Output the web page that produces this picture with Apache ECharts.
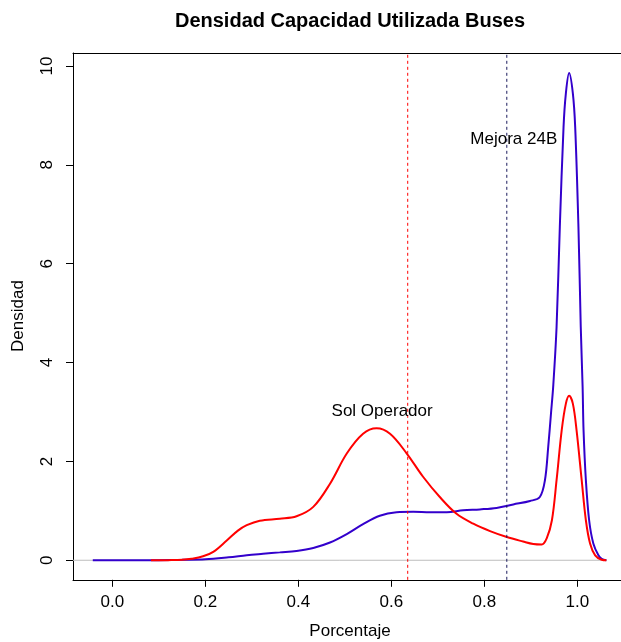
<!DOCTYPE html>
<html>
<head>
<meta charset="utf-8">
<script src="https://cdn.jsdelivr.net/npm/echarts@6/dist/echarts.min.js"></script>
<style>html,body{margin:0;padding:0;background:#fff;}#c{width:621px;height:642px;}</style>
</head>
<body>
<div id="c"></div>
<script>
// ---- data ----
const mejoraX = [-0.042,0.0,0.1,0.15,0.2,0.25,0.289,0.324,0.36,0.396,0.432,0.468,0.504,0.539,0.575,0.611,0.647,0.683,0.719,0.754,0.79,0.826,0.862,0.898,0.919,0.930,0.937,0.943,0.948,0.955,0.962,0.970,0.975,0.982,0.990,0.995,1.002,1.007,1.011,1.013,1.018,1.025,1.034,1.045,1.052,1.062];
const mejoraY = [0,0.0,0.003,0.01,0.02,0.06,0.10,0.13,0.16,0.19,0.25,0.36,0.53,0.73,0.90,0.97,0.98,0.97,0.97,1.01,1.03,1.06,1.13,1.20,1.28,1.62,2.29,2.97,3.55,4.72,6.75,8.77,9.45,9.86,9.45,8.77,6.75,4.72,3.5,2.63,1.62,0.81,0.34,0.10,0.03,0];
const operX = [0.083,0.12,0.15,0.17,0.195,0.217,0.246,0.27,0.289,0.317,0.36,0.396,0.432,0.468,0.504,0.539,0.568,0.597,0.633,0.668,0.704,0.740,0.776,0.812,0.848,0.883,0.905,0.923,0.934,0.945,0.955,0.966,0.975,0.982,0.990,0.998,1.009,1.018,1.027,1.038,1.052,1.062];
const operY = [0,0.003,0.01,0.03,0.08,0.17,0.40,0.60,0.71,0.80,0.84,0.89,1.08,1.55,2.16,2.56,2.67,2.56,2.16,1.69,1.28,0.94,0.74,0.59,0.47,0.38,0.33,0.32,0.45,0.81,1.62,2.63,3.17,3.33,3.17,2.63,1.62,0.81,0.34,0.10,0.01,0];
const vLines = [0.635, 0.848];          // Sol Operador mean, Mejora 24B mean
const annotTexts = ['Sol Operador', 'Mejora 24B'];
const annotX = [0.58, 0.863];
const annotY = [3.02, 8.52];
const xTicks = [0, 0.2, 0.4, 0.6, 0.8, 1.0];
const yTicks = [0, 2, 4, 6, 8, 10];
const titleText = 'Densidad Capacidad Utilizada Buses';
const xName = 'Porcentaje';
const yName = 'Densidad';

// ---- chart ----
const FONT = "'Liberation Sans', Arial, Helvetica, sans-serif";
const chart = echarts.init(document.getElementById('c'), null, {renderer: 'canvas'});
const zip = (xs, ys) => xs.map((x, i) => [x, ys[i]]);
const XMIN = -0.0845, XMAX = 1.0935, YMIN = -0.395, YMAX = 10.265;
const boxLine = {show: true, onZero: false, lineStyle: {color: '#000', width: 1}};

const option = {
  backgroundColor: '#ffffff',
  animation: false,
  grid: [
    {left: 73, top: 53, width: 548, height: 526.8, show: false},
    {left: 112.3, top: 66, width: 465, height: 494.3, show: false}
  ],
  xAxis: [
    {gridIndex: 0, type: 'value', min: XMIN, max: XMAX, position: 'bottom', axisLine: boxLine,
     axisTick: {show: false}, axisLabel: {show: false}, splitLine: {show: false}},
    {gridIndex: 1, type: 'value', min: 0, max: 1, interval: 0.2, position: 'bottom', offset: 19.5,
     axisLine: {show: true, onZero: false, lineStyle: {color: '#000', width: 1}},
     axisTick: {show: true, length: 7, lineStyle: {color: '#000', width: 1}},
     axisLabel: {show: true, margin: 14, color: '#000', fontSize: 17, fontFamily: FONT,
                 formatter: v => (xTicks.some(t => Math.abs(t - v) < 1e-9) ? v.toFixed(1) : '')},
     splitLine: {show: false}},
    {gridIndex: 0, type: 'value', min: XMIN, max: XMAX, position: 'top', axisLine: boxLine,
     axisTick: {show: false}, axisLabel: {show: false}, splitLine: {show: false}}
  ],
  yAxis: [
    {gridIndex: 0, type: 'value', min: YMIN, max: YMAX, position: 'left', axisLine: boxLine,
     axisTick: {show: false}, axisLabel: {show: false}, splitLine: {show: false}},
    {gridIndex: 1, type: 'value', min: 0, max: 10, interval: 2, position: 'left', offset: 39.3,
     axisLine: {show: true, onZero: false, lineStyle: {color: '#000', width: 1}},
     axisTick: {show: true, length: 7, lineStyle: {color: '#000', width: 1}},
     axisLabel: {show: true, rotate: 90, margin: 17, color: '#000', fontSize: 17, fontFamily: FONT,
                 formatter: v => (yTicks.indexOf(v) >= 0 ? String(v) : '')},
     splitLine: {show: false}}
  ],
  series: [
    {type: 'line', xAxisIndex: 0, yAxisIndex: 0, data: [[XMIN, 0], [1.063, 0]], symbol: 'none',
     lineStyle: {color: '#bebebe', width: 1}, silent: true, z: 1},
    {type: 'line', xAxisIndex: 0, yAxisIndex: 0, data: zip(mejoraX, mejoraY), symbol: 'none',
     smooth: 0.35, lineStyle: {color: '#3300cc', width: 2}, z: 3},
    {type: 'line', xAxisIndex: 0, yAxisIndex: 0, data: zip(operX, operY), symbol: 'none',
     smooth: 0.35, lineStyle: {color: '#ff0000', width: 2}, z: 4},
    {type: 'line', xAxisIndex: 0, yAxisIndex: 0, data: [[vLines[0], YMIN], [vLines[0], YMAX]], symbol: 'none',
     lineStyle: {color: '#ff0000', width: 1, type: [3, 3]}, z: 5},
    {type: 'line', xAxisIndex: 0, yAxisIndex: 0, data: [[vLines[1], YMIN], [vLines[1], YMAX]], symbol: 'none',
     lineStyle: {color: '#1a1a5c', width: 1, type: [3, 3]}, z: 5},
    {type: 'scatter', xAxisIndex: 0, yAxisIndex: 0, symbolSize: 0, itemStyle: {opacity: 1},
     data: annotTexts.map((t, i) => ({value: [annotX[i], annotY[i]], name: t})),
     label: {show: true, position: 'inside', formatter: p => p.name, color: '#000', opacity: 1, fontSize: 17, fontFamily: FONT},
     z: 6}
  ],
  graphic: [
    {type: 'text', x: 350, y: 21, style: {text: titleText, textAlign: 'center', textVerticalAlign: 'middle',
      font: 'bold 20px ' + FONT, fill: '#000'}},
    {type: 'text', x: 350, y: 631, style: {text: xName, textAlign: 'center', textVerticalAlign: 'middle',
      font: '17px ' + FONT, fill: '#000'}},
    {type: 'text', x: 18, y: 316, rotation: Math.PI / 2, style: {text: yName, textAlign: 'center', textVerticalAlign: 'middle',
      font: '17px ' + FONT, fill: '#000'}}
  ]
};
chart.setOption(option);
</script>
</body>
</html>
